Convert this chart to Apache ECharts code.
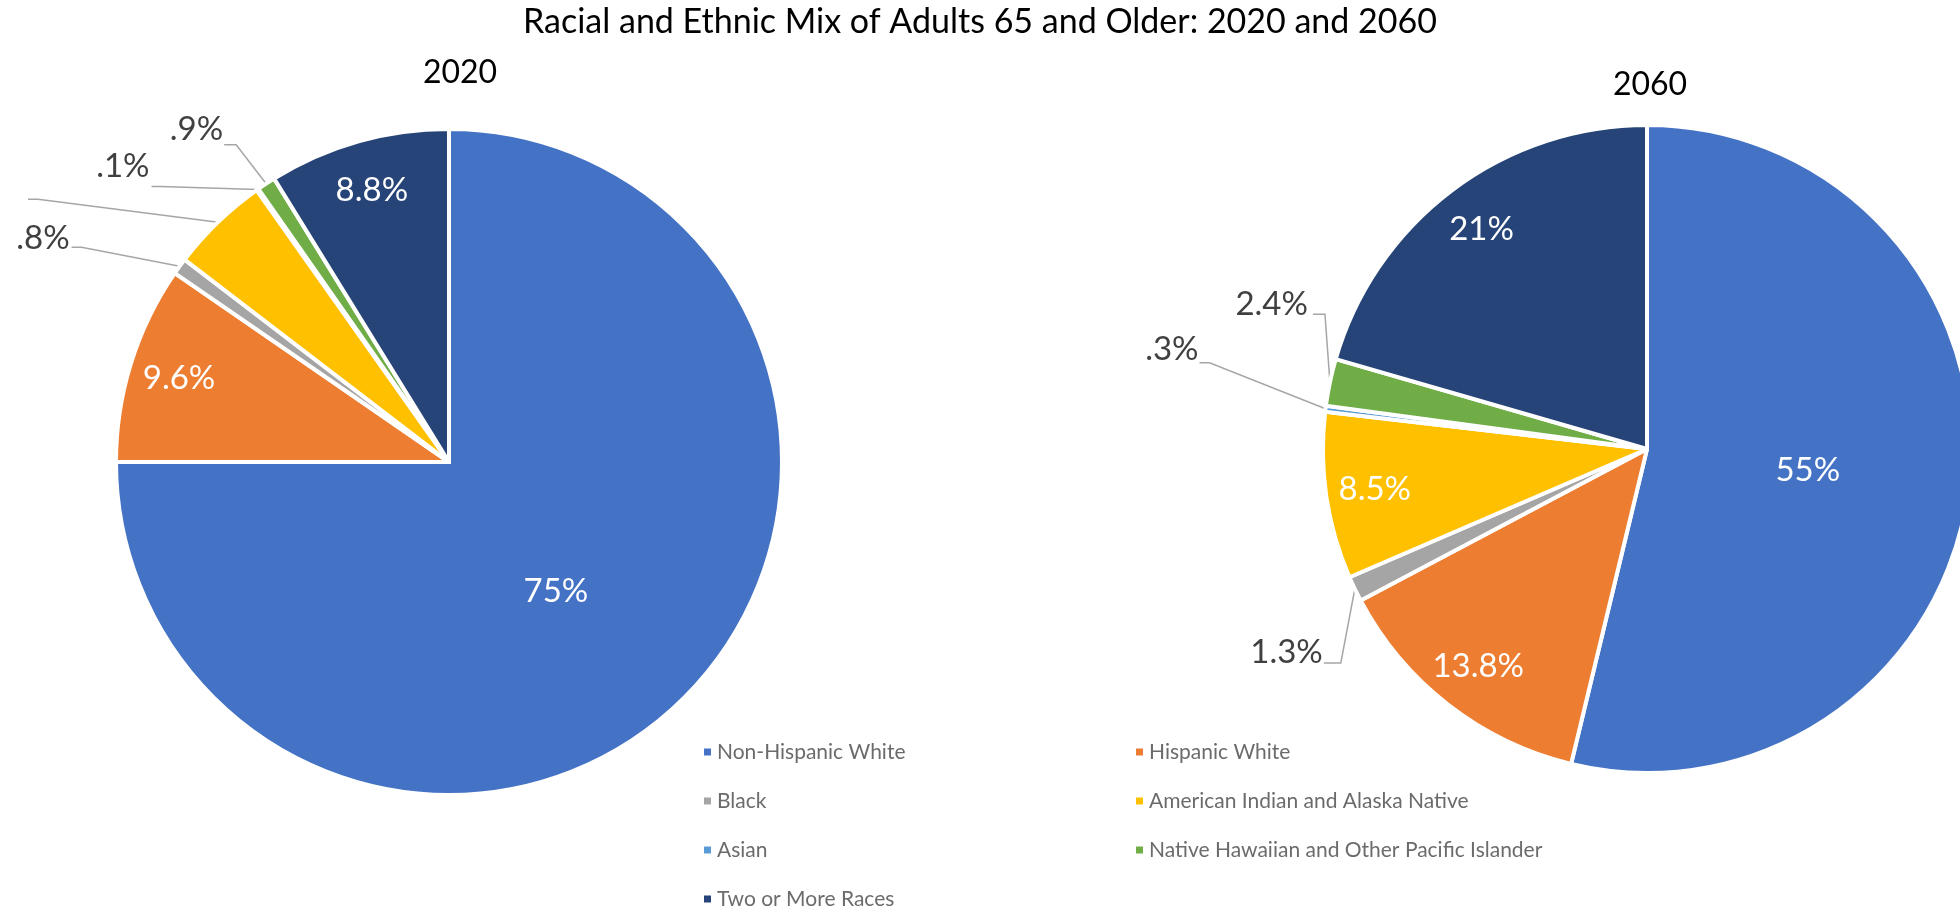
<!DOCTYPE html>
<html>
<head>
<meta charset="utf-8">
<title>Racial and Ethnic Mix of Adults 65 and Older</title>
<script src="https://cdn.jsdelivr.net/npm/echarts@6/dist/echarts.min.js"></script>
<style>
  html, body { margin: 0; padding: 0; background: #ffffff; overflow: hidden; }
  #chart { width: 1960px; height: 908px; }
</style>
</head>
<body>
<div id="chart"></div>
<script>
// ---- data ----
const categories = [
  'Non-Hispanic White',
  'Hispanic White',
  'Black',
  'American Indian and Alaska Native',
  'Asian',
  'Native Hawaiian and Other Pacific Islander',
  'Two or More Races'
];
const values2020 = [75, 9.6, 0.8, 4.8, 0.1, 0.9, 8.8];
const values2060 = [55, 13.8, 1.3, 8.5, 0.3, 2.4, 21];
const years = ['2020', '2060'];
const chartTitle = 'Racial and Ethnic Mix of Adults 65 and Older: 2020 and 2060';

// ---- styling ----
const palette = ['#4472C4', '#ED7D31', '#A5A5A5', '#FFC000', '#5B9BD5', '#70AD47', '#264478'];
const FONT = 'Lato, "Open Sans", sans-serif';
const LABEL_SIZE = 33;

const pieGeometry = {
  '2020': { center: [449, 462], radius: 333 },
  '2060': { center: [1647, 449], radius: 324 }
};
// inner labels of mid-sized slices sit near the rim: a transparent pie of this
// relative radius carries them at its own half radius
const BAND_FACTOR = 1.68;

// Leader-line labels, offsets relative to the slice's rim anchor:
// text = right edge / middle of the label, bend = elbow of the leader,
// end = x where the leader meets the label.
const leaderSpec = {
  '2020': {
    'Black': { text: [-110, -28], bend: [-98, -19], end: -108 },
    'American Indian and Alaska Native': { text: [-240, -24], bend: [-180, -23], end: -190 },
    'Asian': { text: [-108, -23], bend: [-97, -3], end: -106 },
    'Native Hawaiian and Other Pacific Islander': { text: [-43, -54], bend: [-30, -39], end: -42 }
  },
  '2060': {
    'Black': { text: [-32, 63], bend: [-14, 74], end: -31 },
    'Asian': { text: [-127, -59], bend: [-116, -46], end: -126 },
    'Native Hawaiian and Other Pacific Islander': { text: [-22, -78], bend: [-5, -68], end: -17 }
  }
};
const centreNudge = { '2020': [-13, 10], '2060': [-3, 2] };

function fmtPct(v) {
  return String(v).replace(/^0\./, '.') + '%';
}

function placement(vals, i) {
  const max = Math.max.apply(null, vals);
  if (vals[i] === max) return 'centre';
  if (vals[i] >= 5) return 'band';
  return 'outside';
}

function mainSeries(year, vals) {
  const geo = pieGeometry[year];
  const spec = leaderSpec[year];
  const nudge = centreNudge[year];
  return {
    type: 'pie',
    name: year,
    center: geo.center,
    radius: geo.radius,
    startAngle: 90,
    clockwise: true,
    avoidLabelOverlap: false,
    selectedMode: false,
    z: 2,
    itemStyle: { borderColor: '#ffffff', borderWidth: 4, borderJoin: 'round' },
    emphasis: { disabled: true },
    label: {
      fontFamily: FONT,
      fontSize: LABEL_SIZE,
      formatter: p => fmtPct(p.value)
    },
    labelLine: {
      length: 10,
      length2: 10,
      lineStyle: { color: '#A6A6A6', width: 1.5 }
    },
    labelLayout: function (p) {
      const name = categories[p.dataIndex];
      const s = spec[name];
      if (s && p.labelLinePoints) {
        const a = p.labelLinePoints[0];
        return {
          x: a[0] + s.text[0],
          y: a[1] + s.text[1],
          align: 'right',
          verticalAlign: 'middle',
          labelLinePoints: [
            [a[0], a[1]],
            [a[0] + s.bend[0], a[1] + s.bend[1]],
            [a[0] + s.end, a[1] + s.bend[1]]
          ]
        };
      }
      const r = p.labelRect;
      return {
        x: r.x + r.width / 2 + nudge[0],
        y: r.y + r.height / 2 + nudge[1],
        align: 'center',
        verticalAlign: 'middle'
      };
    },
    data: categories.map((name, i) => {
      const kind = placement(vals, i);
      return {
        name: name,
        value: vals[i],
        itemStyle: { color: palette[i] },
        label: kind === 'centre'
          ? { show: true, position: 'inside', color: '#ffffff' }
          : kind === 'outside'
            ? { show: true, position: 'outside', color: '#404040' }
            : { show: false },
        labelLine: { show: kind === 'outside' }
      };
    })
  };
}

function bandLabelSeries(year, vals) {
  const geo = pieGeometry[year];
  return {
    type: 'pie',
    name: year + ' rim labels',
    center: geo.center,
    radius: geo.radius * BAND_FACTOR,
    startAngle: 90,
    clockwise: true,
    avoidLabelOverlap: false,
    silent: true,
    legendHoverLink: false,
    selectedMode: false,
    z: 3,
    itemStyle: { color: 'rgba(0,0,0,0)', borderWidth: 0 },
    emphasis: { disabled: true },
    tooltip: { show: false },
    label: {
      position: 'inside',
      color: '#ffffff',
      fontFamily: FONT,
      fontSize: LABEL_SIZE,
      formatter: p => fmtPct(p.value)
    },
    labelLine: { show: false },
    data: categories.map((name, i) => ({
      name: name,
      value: vals[i],
      label: { show: placement(vals, i) === 'band' }
    }))
  };
}

const legendText = { fontFamily: FONT, fontSize: 21, color: '#6b6b6b', lineHeight: 24 };
const legendBase = {
  orient: 'vertical',
  top: 740,
  height: 240,
  padding: 0,
  itemWidth: 9,
  itemHeight: 9,
  itemGap: 25,
  icon: 'rect',
  selectedMode: false,
  textStyle: legendText
};

const chart = echarts.init(document.getElementById('chart'), null, { renderer: 'canvas' });
chart.setOption({
  animation: false,
  backgroundColor: '#ffffff',
  title: [
    {
      text: chartTitle, left: 980, top: 22, padding: 0,
      textAlign: 'center', textVerticalAlign: 'middle',
      textStyle: { fontFamily: FONT, fontSize: 34, fontWeight: 'normal', color: '#000000' }
    },
    {
      text: years[0], left: 460, top: 73, padding: 0,
      textAlign: 'center', textVerticalAlign: 'middle',
      textStyle: { fontFamily: FONT, fontSize: 32, fontWeight: 'normal', color: '#000000' }
    },
    {
      text: years[1], left: 1650, top: 85, padding: 0,
      textAlign: 'center', textVerticalAlign: 'middle',
      textStyle: { fontFamily: FONT, fontSize: 32, fontWeight: 'normal', color: '#000000' }
    }
  ],
  legend: [
    Object.assign({}, legendBase, {
      left: 702,
      data: [categories[0], categories[2], categories[4], categories[6]]
    }),
    Object.assign({}, legendBase, {
      left: 1134,
      data: [categories[1], categories[3], categories[5]]
    })
  ],
  series: [
    mainSeries(years[0], values2020),
    mainSeries(years[1], values2060),
    bandLabelSeries(years[0], values2020),
    bandLabelSeries(years[1], values2060)
  ]
});
</script>
</body>
</html>
